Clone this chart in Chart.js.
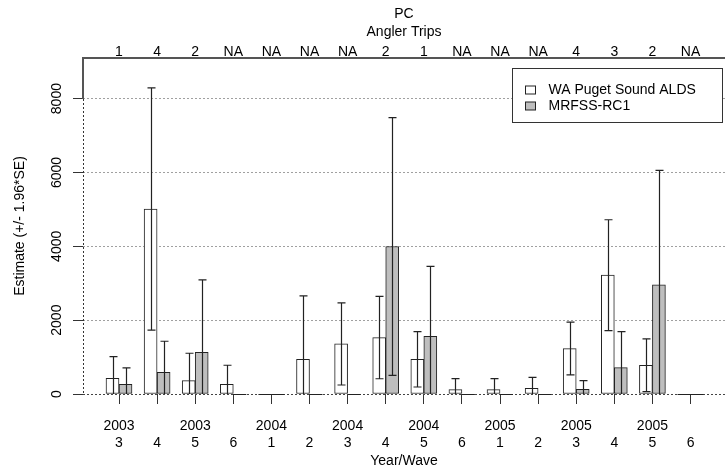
<!DOCTYPE html>
<html>
<head>
<meta charset="utf-8">
<script src="https://cdn.jsdelivr.net/npm/chart.js@4/dist/chart.umd.min.js"></script>
<style>
  html, body { margin: 0; padding: 0; background: #ffffff; }
  #wrap { width: 725px; height: 472px; }
</style>
</head>
<body>
<div id="wrap"><canvas id="c" width="725" height="472"></canvas></div>
<script>
// ---- data ----
const waveLabels   = ['3','4','5','6','1','2','3','4','5','6','1','2','3','4','5','6'];
const yearLabels   = ['2003','','2003','','2004','','2004','','2004','','2005','','2005','','2005',''];
const anglerTrips  = ['1','4','2','NA','NA','NA','NA','2','1','NA','NA','NA','4','3','2','NA'];
const aldsEstimate = [426, 5010, 362, 262, 0, 940, 1356, 1528, 940, 117, 117, 154, 1230, 3219, 778, 0];
const aldsError    = [586, 3280, 741, 516, 0, 1718, 1112, 1115, 750, 299, 299, 298, 714, 1500, 714, 0];
const mrfssEstimate = [262, 588, 1130, 0, 0, 0, 0, 3996, 1564, 0, 0, 0, 127, 715, 2956, 0];
const mrfssError    = [443, 841, 1962, 0, 0, 0, 0, 3490, 1890, 0, 0, 0, 235, 975, 3100, 0];
const yTicks = [0, 2000, 4000, 6000, 8000];
const seriesNames = ['WA Puget Sound ALDS', 'MRFSS-RC1'];

const FONT = '"Liberation Sans", Arial, Helvetica, sans-serif';
Chart.defaults.font.family = FONT;
Chart.defaults.font.size = 14;
Chart.defaults.color = '#000';

const toPoints = arr => arr.map((v, i) => ({x: i, y: v}));
const errs = [aldsError, mrfssError];

const errorBars = {
  id: 'errorBars',
  afterDatasetsDraw(chart) {
    const {ctx, chartArea, scales} = chart;
    const y = scales.y;
    const y0 = Math.round(y.getPixelForValue(0)) + 0.5;
    ctx.save();
    ctx.beginPath();
    ctx.rect(chartArea.left, chartArea.top, chartArea.right - chartArea.left, chartArea.bottom - chartArea.top + 1);
    ctx.clip();
    ctx.strokeStyle = '#222';
    chart.data.datasets.forEach((ds, di) => {
      const meta = chart.getDatasetMeta(di);
      meta.data.forEach((bar, i) => {
        const v = ds.data[i].y;
        if (v === 0) {
          ctx.lineWidth = 1;
          ctx.beginPath();
          ctx.moveTo(bar.x - bar.width / 2, y0); ctx.lineTo(bar.x + bar.width / 2, y0);
          ctx.stroke();
        }
        const e = errs[di][i];
        if (!e) return;
        ctx.lineWidth = 1.2;
        const yTop = y.getPixelForValue(v + e);
        const lo = v - e;
        const yBot = y.getPixelForValue(Math.max(lo, 0));
        const x = Math.round(bar.x) + 0.5;
        ctx.beginPath();
        ctx.moveTo(x, yTop); ctx.lineTo(x, yBot);
        ctx.moveTo(x - 4, yTop); ctx.lineTo(x + 4, yTop);
        if (lo >= 0) { ctx.moveTo(x - 4, yBot); ctx.lineTo(x + 4, yBot); }
        ctx.stroke();
      });
    });
    ctx.restore();
  }
};

const frameAndLegend = {
  id: 'frameAndLegend',
  afterDraw(chart) {
    const {ctx, chartArea, scales} = chart;
    const y = scales.y;
    const left = Math.round(chartArea.left);
    const top = Math.round(chartArea.top);
    const yMax = Math.round(y.getPixelForValue(yTicks[yTicks.length - 1]));
    ctx.save();
    // top frame and left frame (solid above last tick, dotted below)
    ctx.fillStyle = '#555';
    ctx.fillRect(left - 1, top - 1, chart.width - left + 1, 2);
    ctx.fillRect(left - 1, top - 1, 2, yMax - top + 1);
    ctx.strokeStyle = '#333';
    ctx.lineWidth = 1;
    ctx.setLineDash([2, 2]);
    ctx.beginPath(); ctx.moveTo(left + 0.5, yMax); ctx.lineTo(left + 0.5, chartArea.bottom); ctx.stroke();
    ctx.setLineDash([]);
    // legend box
    const bw = 210, bh = 54;
    const bx = Math.round(chartArea.right - 3 - bw) + 0.5;
    const by = Math.round(chartArea.top + 10) + 0.5;
    ctx.fillStyle = '#fff';
    ctx.fillRect(bx, by, bw, bh);
    ctx.strokeStyle = '#333';
    ctx.lineWidth = 1;
    ctx.strokeRect(bx, by, bw, bh);
    ctx.font = '14px ' + FONT;
    ctx.textBaseline = 'middle';
    ctx.textAlign = 'left';
    chart.data.datasets.forEach((ds, i) => {
      const cy = by + 21.5 + i * 16.5;
      ctx.fillStyle = ds.backgroundColor;
      ctx.fillRect(bx + 13, Math.round(cy - 4.5), 10, 8);
      ctx.strokeStyle = '#222';
      ctx.strokeRect(bx + 13, Math.round(cy - 4.5), 10, 8);
      ctx.fillStyle = '#000';
      ctx.fillText(ds.label, bx + 36, cy);
    });
    ctx.restore();
  }
};

new Chart(document.getElementById('c'), {
  type: 'bar',
  data: {
    datasets: [
      { label: seriesNames[0], data: toPoints(aldsEstimate), backgroundColor: '#ffffff',
        borderColor: '#222', borderWidth: 1, borderSkipped: false, barThickness: 13, xAxisID: 'x' },
      { label: seriesNames[1], data: toPoints(mrfssEstimate), backgroundColor: '#bebebe',
        borderColor: '#222', borderWidth: 1, borderSkipped: false, barThickness: 13, xAxisID: 'x' }
    ]
  },
  options: {
    responsive: false,
    animation: false,
    devicePixelRatio: 1,
    layout: { padding: 0 },
    plugins: { legend: { display: false }, tooltip: { enabled: false } },
    scales: {
      x: {
        type: 'linear', position: 'bottom', min: -0.945, max: 15.905, offset: false,
        afterBuildTicks: s => { s.ticks = waveLabels.map((_, i) => ({value: i})); },
        afterFit: s => { s.height = 78; },
        ticks: {
          autoSkip: false, maxRotation: 0, minRotation: 0, padding: 12.8,
          font: { size: 14, lineHeight: '17.7px' }, color: '#000',
          callback: v => { const i = Math.round(v); return [yearLabels[i], waveLabels[i]]; }
        },
        grid: { offset: false, drawOnChartArea: false, drawTicks: true, tickLength: 10, tickColor: '#333', tickWidth: 1 },
        border: { display: false },
        title: { display: true, text: 'Year/Wave', font: { size: 14 }, padding: { top: 0, bottom: 2.6 }, color: '#000' }
      },
      xTop: {
        type: 'linear', position: 'top', min: -0.945, max: 15.905, offset: false,
        afterBuildTicks: s => { s.ticks = anglerTrips.map((_, i) => ({value: i})); },
        afterFit: s => { s.height = 58; },
        ticks: {
          autoSkip: false, maxRotation: 0, minRotation: 0, padding: 0,
          font: { size: 14, lineHeight: '12px' }, color: '#000',
          callback: v => anglerTrips[Math.round(v)]
        },
        grid: { display: false, drawOnChartArea: false, drawTicks: false, tickLength: 0 },
        border: { display: false },
        title: { display: true, text: ['PC', 'Angler Trips'], font: { size: 14, lineHeight: '18px' }, padding: { top: 5, bottom: 0 }, color: '#000' }
      },
      y: {
        type: 'linear', position: 'left', min: 0, max: 9100,
        afterBuildTicks: s => { s.ticks = yTicks.map(v => ({value: v})); },
        afterFit: s => { s.width = 83; },
        ticks: {
          minRotation: 90, maxRotation: 90, crossAlign: 'center', padding: 0.5,
          font: { size: 14 }, color: '#000',
          callback: v => String(v)
        },
        grid: {
          drawOnChartArea: true, drawTicks: true, tickLength: 10, tickWidth: 1, tickColor: '#333',
          color: ctx => (ctx.tick && ctx.tick.value === 0) ? '#444' : '#a0a0a0', lineWidth: 1
        },
        border: { display: false, dash: [2, 2] },
        title: { display: true, text: 'Estimate (+/- 1.96*SE)', font: { size: 14 }, padding: { top: 11.6, bottom: 0 }, color: '#000' }
      }
    }
  },
  plugins: [errorBars, frameAndLegend]
});
</script>
</body>
</html>
